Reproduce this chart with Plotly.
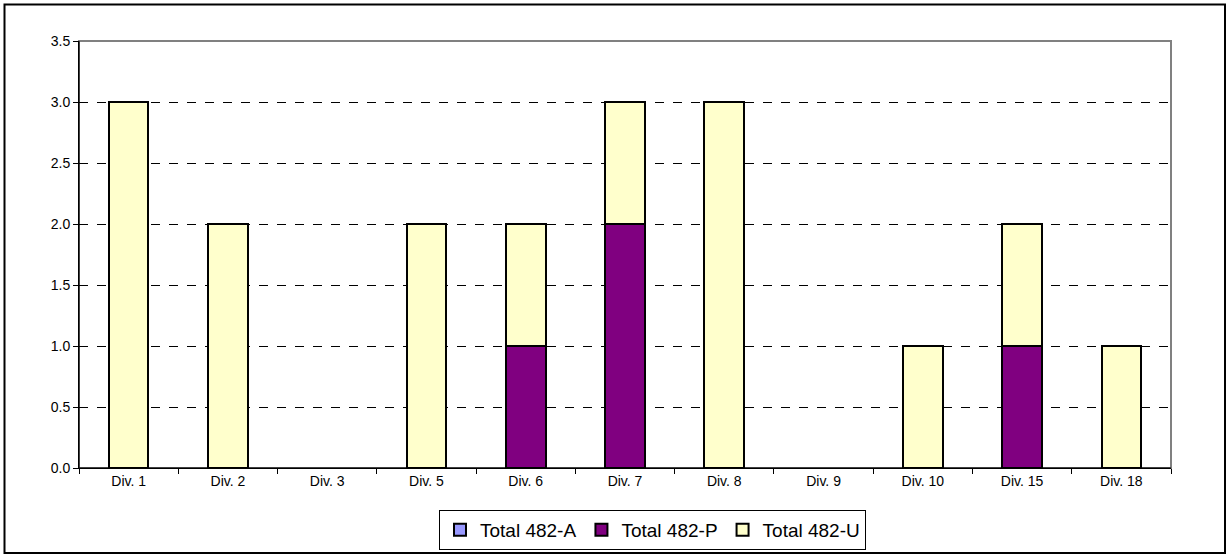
import plotly.graph_objects as go

categories = ["Div. 1", "Div. 2", "Div. 3", "Div. 5", "Div. 6", "Div. 7", "Div. 8", "Div. 9", "Div. 10", "Div. 15", "Div. 18"]
total_a = [0, 0, 0, 0, 0, 0, 0, 0, 0, 0, 0]
total_p = [0, 0, 0, 0, 1, 2, 0, 0, 0, 1, 0]
total_u = [3, 2, 0, 2, 1, 1, 3, 0, 1, 1, 1]
y_ticks = [0.0, 0.5, 1.0, 1.5, 2.0, 2.5, 3.0, 3.5]

def nz(vals):
    return [v if v else None for v in vals]

W, H = 1228, 555
L, R, T, B = 79, 1171, 41, 468
pw, ph = R - L, B - T

fig = go.Figure()
fig.add_trace(go.Bar(name="Total 482-A", x=categories, y=nz(total_a),
                     marker=dict(color="#9999FF", line=dict(color="black", width=2))))
fig.add_trace(go.Bar(name="Total 482-P", x=categories, y=nz(total_p),
                     marker=dict(color="#800080", line=dict(color="black", width=2))))
fig.add_trace(go.Bar(name="Total 482-U", x=categories, y=nz(total_u),
                     marker=dict(color="#FFFFCC", line=dict(color="black", width=2))))

def px_x(x):
    return (x - L) / pw

def px_y(y):
    return (B - y) / ph

fig.update_layout(
    template="none",
    barmode="stack",
    bargap=0.6,
    width=W, height=H,
    margin=dict(l=L, r=W - R, t=T, b=H - B, autoexpand=False),
    paper_bgcolor="white",
    plot_bgcolor="white",
    font=dict(family="Arial, Liberation Sans, sans-serif", color="black", size=14),
    showlegend=True,
    legend=dict(orientation="h", xref="container", yref="container",
                x=652.5 / W, xanchor="center", y=(H - 510) / H, yanchor="top",
                bordercolor="black", borderwidth=1, bgcolor="white", font=dict(size=19),
                itemwidth=30, traceorder="normal", tracegroupgap=0),
    xaxis=dict(type="category", showline=True, linecolor="black", linewidth=1,
               ticks="outside", ticklen=5, tickcolor="black", showgrid=False,
               tickson="boundaries", mirror=False, automargin=False, zeroline=False),
    yaxis=dict(range=[0, 3.5], tickvals=y_ticks, ticktext=[f"{v:.1f}" for v in y_ticks],
               showline=True, linecolor="black", linewidth=1, ticks="outside", ticklen=5,
               tickcolor="black", showgrid=True, gridcolor="black", griddash="dash",
               gridwidth=1, zeroline=False, automargin=False),
    shapes=[
        dict(type="rect", xref="paper", yref="paper", x0=0, x1=1, y0=0, y1=1,
             line=dict(color="#808080", width=2), layer="below"),
        dict(type="line", xref="paper", yref="paper", x0=0, x1=0, y0=0, y1=1,
             line=dict(color="black", width=1)),
        dict(type="line", xref="paper", yref="paper", x0=0, x1=1, y0=0, y1=0,
             line=dict(color="black", width=1)),
        dict(type="rect", xref="paper", yref="paper", x0=px_x(4.5), x1=px_x(1225), y0=px_y(4.5), y1=px_y(553),
             line=dict(color="black", width=2)),
    ],
)

fig.write_html("out.html", config={"displayModeBar": False},
               post_script="document.body.style.margin='0';document.body.style.overflow='hidden';")
